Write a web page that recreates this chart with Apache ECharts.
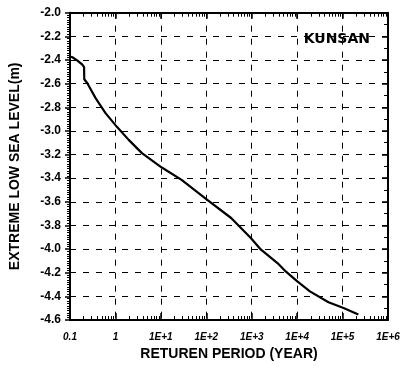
<!DOCTYPE html>
<html>
<head>
<meta charset="utf-8">
<script src="https://cdn.jsdelivr.net/npm/echarts@6/dist/echarts.min.js"></script>
<style>
html,body{margin:0;padding:0;background:#fff;}
#c{width:403px;height:368px;}
</style>
</head>
<body>
<div id="c"></div>
<script>
// Return period (years) and extreme low sea level (m)
const returnPeriod = [0.1, 0.113, 0.146, 0.187, 0.204, 0.206, 0.241, 0.366, 0.605, 1.09, 1.96, 3.83, 10.5, 28.6, 100, 352, 955, 1600, 3690, 5600, 10100, 19100, 49000, 105000, 223000];
const seaLevel = [-2.37, -2.377, -2.405, -2.44, -2.46, -2.563, -2.597, -2.723, -2.85, -2.968, -3.076, -3.188, -3.31, -3.414, -3.577, -3.737, -3.906, -4.005, -4.118, -4.189, -4.273, -4.358, -4.45, -4.498, -4.554];
const xTickLabels = {0.1: '0.1', 1: '1', 10: '1E+1', 100: '1E+2', 1000: '1E+3', 10000: '1E+4', 100000: '1E+5', 1000000: '1E+6'};
const stationName = 'KUNSAN';

const chart = echarts.init(document.getElementById('c'));
const dash = [6, 7];
function xLabel(v) {
  for (const k in xTickLabels) {
    if (Math.abs(Math.log10(v) - Math.log10(+k)) < 1e-6) return xTickLabels[k];
  }
  return '';
}
const common = {
  axisLine: {show: true, lineStyle: {color: '#000', width: 2}},
};
chart.setOption({
  animation: false,
  backgroundColor: '#fff',
  grid: {left: 67.5, right: 15, top: 12.7, bottom: 48, containLabel: false},
  title: {
    text: stationName, right: 28, top: 27,
    textStyle: {fontFamily: 'DejaVu Sans', fontWeight: 'bold', fontSize: 14, color: '#000'}
  },
  xAxis: [{
    type: 'log', logBase: 10, min: 0.1, max: 1000000, position: 'bottom',
    name: 'RETUREN PERIOD (YEAR)', nameLocation: 'middle', nameGap: 25,
    nameTextStyle: {fontFamily: 'Liberation Sans', fontWeight: 'bold', fontSize: 14, color: '#000'},
    axisLine: {show: true, onZero: false, lineStyle: {color: '#000', width: 2}},
    axisTick: {show: true, inside: true, length: 7, lineStyle: {color: '#000', width: 1.5}},
    minorTick: {show: true, splitNumber: 9, length: 4, lineStyle: {color: '#000', width: 1}},
    axisLabel: {
      margin: 12, formatter: xLabel, color: '#000',
      fontFamily: 'Liberation Sans', fontStyle: 'italic', fontWeight: 'bold', fontSize: 10
    },
    splitLine: {show: true, lineStyle: {color: '#000', type: dash, width: 1}}
  }, {
    type: 'log', logBase: 10, min: 0.1, max: 1000000, position: 'top',
    axisLine: {show: true, onZero: false, lineStyle: {color: '#000', width: 2}},
    axisTick: {show: true, inside: true, length: 6, lineStyle: {color: '#000', width: 1.5}},
    minorTick: {show: true, splitNumber: 9, length: 4, lineStyle: {color: '#000', width: 1}},
    axisLabel: {show: false},
    splitLine: {show: false}
  }],
  yAxis: [{
    type: 'value', min: -4.6, max: -2.0, interval: 0.2, position: 'left',
    name: 'EXTREME LOW SEA LEVEL(m)', nameLocation: 'middle', nameGap: 48, nameRotate: 90,
    nameTextStyle: {fontFamily: 'Liberation Sans', fontWeight: 'bold', fontSize: 14, color: '#000'},
    axisLine: {show: true, onZero: false, lineStyle: {color: '#000', width: 2}},
    axisTick: {show: true, inside: false, length: 5, lineStyle: {color: '#000', width: 1.5}},
    minorTick: {show: true, splitNumber: 10, length: 3, lineStyle: {color: '#000', width: 1}},
    axisLabel: {
      margin: 9, color: '#000', formatter: v => v.toFixed(1),
      fontFamily: 'Liberation Sans', fontWeight: 'bold', fontSize: 12
    },
    splitLine: {show: true, lineStyle: {color: '#000', type: dash, width: 1}}
  }, {
    type: 'value', min: -4.6, max: -2.0, interval: 0.2, position: 'right',
    axisLine: {show: true, onZero: false, lineStyle: {color: '#000', width: 2}},
    axisTick: {show: true, inside: true, length: 6, lineStyle: {color: '#000', width: 1.5}},
    minorTick: {show: true, splitNumber: 2, length: 4, lineStyle: {color: '#000', width: 1}},
    axisLabel: {show: false},
    splitLine: {show: false}
  }],
  series: [{
    type: 'line', xAxisIndex: 0, yAxisIndex: 0,
    data: returnPeriod.map((x, i) => [x, seaLevel[i]]),
    showSymbol: false, smooth: false,
    lineStyle: {color: '#000', width: 2.2}
  }]
});
</script>
</body>
</html>
